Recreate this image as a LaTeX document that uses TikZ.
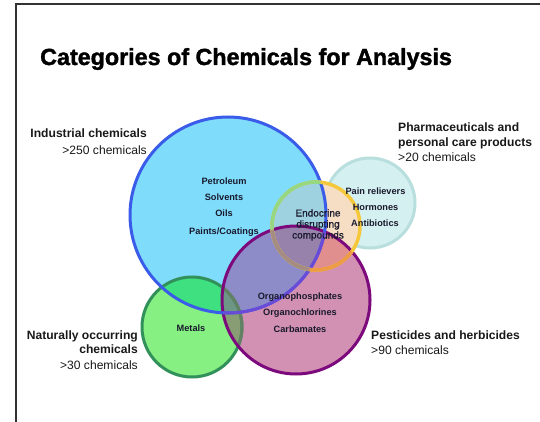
\documentclass[tikz,border=0pt]{standalone}
\usepackage{fontspec}
\setmainfont{Liberation Sans}
\newfontfamily\titlefont[BoldFeatures={FakeBold=1.6}]{Liberation Sans}
\newfontfamily\endofont[FakeBold=0.8]{Liberation Sans}
\definecolor{bluefill}{RGB}{127,221,251}
\definecolor{blueline}{RGB}{58,92,232}
\definecolor{blueviolet}{RGB}{105,75,215}
\definecolor{pinkfill}{RGB}{210,145,178}
\definecolor{purpline}{RGB}{125,10,125}
\definecolor{slate}{RGB}{142,140,200}
\definecolor{greenfill}{RGB}{134,240,130}
\definecolor{greenline}{RGB}{50,145,90}
\definecolor{greenlinep}{RGB}{100,128,100}
\definecolor{bgreen}{RGB}{62,224,128}
\definecolor{pgreen}{RGB}{137,157,117}
\definecolor{bpgreen}{RGB}{110,150,135}
\definecolor{tealfill}{RGB}{212,240,240}
\definecolor{tealline}{RGB}{184,222,222}
\definecolor{peach}{RGB}{245,222,195}
\definecolor{ybfill}{RGB}{158,210,224}
\definecolor{ypfill}{RGB}{225,142,142}
\definecolor{ybpfill}{RGB}{150,130,170}
\definecolor{yline}{RGB}{245,200,60}
\definecolor{ylineb}{RGB}{150,215,130}
\definecolor{ylinep}{RGB}{238,155,70}
\definecolor{ylinebp}{RGB}{165,140,130}
\definecolor{framec}{RGB}{50,50,50}
\definecolor{ink}{RGB}{25,25,25}
\definecolor{inkin}{RGB}{25,25,45}
\tikzset{
  bluep/.style={insert path={(228,215) circle[radius=98pt]}},
  purpp/.style={insert path={(296,300) circle[radius=74pt]}},
  greenp/.style={insert path={(192,327) circle[radius=50pt]}},
  yelp/.style={insert path={(316,226) circle[radius=44pt]}},
  tealp/.style={insert path={(370,203) circle[radius=45pt]}},
  rim/.style={line width=3pt},
  outb/.style={inner sep=0pt, text=ink, font=\fontsize{12.1}{14}\selectfont\bfseries},
  outr/.style={inner sep=0pt, text=ink, font=\fontsize{12.1}{14}\selectfont},
  inb/.style={inner sep=0pt, anchor=base, text=inkin, font=\fontsize{9.2}{11}\selectfont\bfseries},
  inr/.style={inner sep=0pt, anchor=base, text=inkin, font=\fontsize{10}{11}\endofont},
}
\begin{document}
\begin{tikzpicture}[x=1pt,y=-1pt]
\useasboundingbox (0,0) rectangle (540,422);
\fill[white] (0,0) rectangle (540,422);
% frame
\coordinate (fbl) at (16,422);
\coordinate (ftl) at (16,4);
\coordinate (ftr) at (540,4);
\draw[framec, line width=2.5pt] (fbl) -- (ftl) -- (ftr);
% teal
\fill[tealfill, tealp];
\draw[tealline, rim, tealp];
% blue
\fill[bluefill, bluep];
% purple
\fill[pinkfill, purpp];
\begin{scope}\clip[bluep];\fill[slate, purpp];\end{scope}
% green
\fill[greenfill, greenp];
\begin{scope}\clip[bluep];\fill[bgreen, greenp];\end{scope}
\begin{scope}\clip[purpp];\fill[pgreen, greenp];\end{scope}
\begin{scope}\clip[bluep];\clip[purpp];\fill[bpgreen, greenp];\end{scope}
% yellow
\fill[peach, yelp];
\begin{scope}\clip[bluep];\fill[ybfill, yelp];\end{scope}
\begin{scope}\clip[purpp];\fill[ypfill, yelp];\end{scope}
\begin{scope}\clip[bluep];\clip[purpp];\fill[ybpfill, yelp];\end{scope}
% borders
\draw[greenline, rim, greenp];
\begin{scope}\clip[purpp];\draw[greenlinep, rim, greenp];\end{scope}
\draw[purpline, rim, purpp];
\draw[blueline, rim, bluep];
\begin{scope}\clip[purpp];\draw[blueviolet, rim, bluep];\end{scope}
\draw[yline, line width=3.5pt, yelp];
\begin{scope}\clip[bluep];\draw[ylineb, line width=3.5pt, yelp];\end{scope}
\begin{scope}\clip[purpp];\draw[ylinep, line width=3.5pt, yelp];\end{scope}
\begin{scope}\clip[bluep];\clip[purpp];\draw[ylinebp, line width=3.5pt, yelp];\end{scope}
% title
\node[anchor=base west, inner sep=0pt, text=black, font=\fontsize{23.3}{28}\titlefont\bfseries] (title) at (40,65) {Categories of Chemicals for Analysis};
% outer labels
\node[outb, anchor=base east] (ind1) at (147,138) {Industrial chemicals};
\node[outr, anchor=base east] (ind2) at (147,154) {>250 chemicals};
\node[outb, anchor=base west] (ph1) at (398,132) {Pharmaceuticals and};
\node[outb, anchor=base west] (ph2) at (398,147) {personal care products};
\node[outr, anchor=base west] (ph3) at (398,161) {>20 chemicals};
\node[outb, anchor=base east] (na1) at (138,339) {Naturally occurring};
\node[outb, anchor=base east] (na2) at (138,353) {chemicals};
\node[outr, anchor=base east] (na3) at (138,369) {>30 chemicals};
\node[outb, anchor=base west] (pe1) at (371,339) {Pesticides and herbicides};
\node[outr, anchor=base west] (pe2) at (371,354) {>90 chemicals};
% inner labels
\node[inb] (petro) at (224,184.5) {Petroleum};
\node[inb] (solv) at (224,200.5) {Solvents};
\node[inb] (oils) at (224,216.5) {Oils};
\node[inb] (paint) at (224,234.5) {Paints/Coatings};
\node[inb] (pain) at (375.5,194.5) {Pain relievers};
\node[inb] (horm) at (375.5,210.5) {Hormones};
\node[inb] (anti) at (375,226.5) {Antibiotics};
\node[inb] (ophos) at (300,299.5) {Organophosphates};
\node[inb] (ochl) at (300,315.5) {Organochlorines};
\node[inb] (carb) at (300,332.5) {Carbamates};
\node[inb] (metal) at (191,331.5) {Metals};
\node[inr] (endo1) at (318,216.5) {Endocrine};
\node[inr] (endo2) at (318,227.5) {disrupting};
\node[inr] (endo3) at (318,238.5) {compounds};
\end{tikzpicture}
\end{document}
